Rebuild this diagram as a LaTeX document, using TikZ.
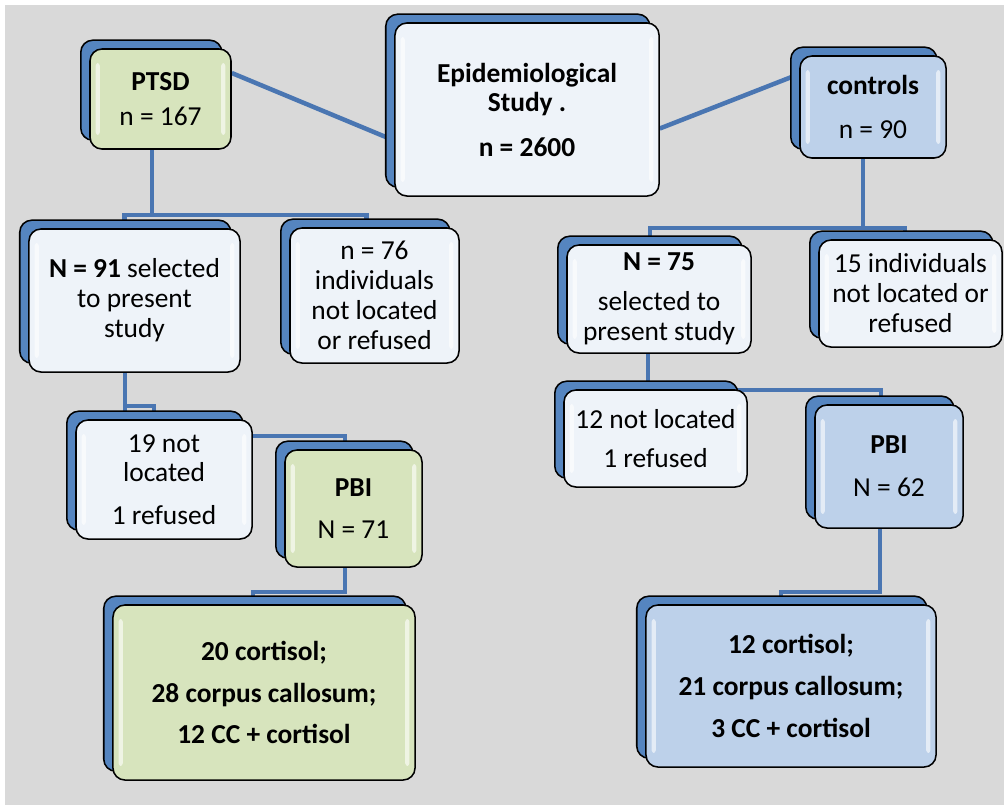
\documentclass[tikz,border=0pt]{standalone}
\usepackage{fontspec}
\setmainfont{Carlito}
\usetikzlibrary{shadows,calc}
\definecolor{bggray}{HTML}{D9D9D9}
\definecolor{backblue}{HTML}{5585C0}
\definecolor{linkblue}{HTML}{4A76B2}
\definecolor{palefill}{HTML}{EEF3F9}
\definecolor{greenfill}{HTML}{D7E4BD}
\definecolor{bluefill}{HTML}{BDD1EA}
\pgfdeclarelayer{back}\pgfdeclarelayer{links}
\pgfsetlayers{back,links,main}

\begin{document}
\begin{tikzpicture}[x=0.025cm,y=-0.025cm] \tikzset{% box styles and connector style
        box/.style={draw=black,line width=1.1pt,rounded corners=0.3cm,align=center,inner sep=0pt,
          font=\fontsize{19.5}{21.3}\selectfont,
          general shadow={shadow xshift=-0.23cm,shadow yshift=0.22cm,fill=backblue,draw=black,line width=1.1pt},
          path picture={
            \fill[white,opacity=.6,rounded corners=2pt] ([shift={(4pt,-10pt)}]path picture bounding box.north west) rectangle ([shift={(7pt,10pt)}]path picture bounding box.south west);
            \fill[white,opacity=.6,rounded corners=2pt] ([shift={(-7pt,-10pt)}]path picture bounding box.north east) rectangle ([shift={(-4pt,10pt)}]path picture bounding box.south east);}},
        wbox/.style={box,fill=palefill}, gbox/.style={box,fill=greenfill}, bbox/.style={box,fill=bluefill},
        c1/.style={draw=linkblue,line width=3.2pt},
        }
        \useasboundingbox (0,0) rectangle (1004,805);
        \begin{pgfonlayer}{back}
        \fill[white] (0,0) rectangle (1004,805); \fill[bggray] (5,5) rectangle (1004,805);
        \end{pgfonlayer}
        % Nodes
        \node[wbox,minimum width=6.6cm,minimum height=4.325cm] (epi) at (527,109.5) {\textbf{Epidemiological}\\\textbf{Study .}\\[10pt]\textbf{n = 2600}};
        \node[gbox,minimum width=3.525cm,minimum height=2.5cm] (ptsd) at (160.5,99) {\textbf{PTSD}\\[4pt]n = 167};
        \node[bbox,minimum width=3.65cm,minimum height=2.55cm] (ctrl) at (873,107) {\textbf{controls}\\[10pt]n = 90};
        \node[wbox,minimum width=5.275cm,minimum height=3.575cm] (n91) at (134.5,300.5) {\textbf{N = 91} selected\\to present\\study};
        \node[wbox,minimum width=4.225cm,minimum height=3.375cm] (n76) at (374.5,295.5) {n = 76\\individuals\\not located\\or refused};
        \node[wbox,minimum width=4.6cm,minimum height=2.7cm] (n75) at (659,299) {\textbf{N = 75}\\[7pt]selected to\\present study};
        \node[wbox,minimum width=4.575cm,minimum height=2.675cm] (ind15) at (910.5,293.5) {15 individuals\\not located or\\refused};
        \node[wbox,minimum width=4.4cm,minimum height=2.975cm] (not19) at (164,479.5) {19 not\\located\\[9pt]1 refused};
        \node[gbox,minimum width=3.425cm,minimum height=2.925cm] (pbi71) at (353.5,508.5) {\textbf{PBI}\\[9pt]N = 71};
        \node[wbox,minimum width=4.575cm,minimum height=2.425cm] (not12) at (655.5,438.5) {12 not located\\[6pt]1 refused};
        \node[bbox,minimum width=3.7cm,minimum height=3.075cm] (pbi62) at (889,466.5) {\textbf{PBI}\\[9pt]N = 62};
        \node[gbox,minimum width=7.55cm,minimum height=4.375cm] (ccl) at (264,692.5) {\textbf{20 cortisol;}\\[8.5pt]\textbf{28 corpus callosum;}\\[8.5pt]\textbf{12 CC + cortisol}};
        \node[bbox,minimum width=7.25cm,minimum height=4.05cm] (ccr) at (791,686) {\textbf{12 cortisol;}\\[8.5pt]\textbf{21 corpus callosum;}\\[8.5pt]\textbf{3 CC + cortisol}};
        \coordinate (bus1) at (152,215); \coordinate (bus2) at (863,228); \coordinate (bus3) at (125,406);
        %Edges
        \begin{pgfonlayer}{links}
        \draw[c1] ($(ptsd.east)+(0,-26)$) -- ($(epi.west)+(0,31)$); \draw[c1] ($(epi.east)+(0,19)$) -- ($(ctrl.west)+(0,-33)$);
        \draw[c1] ($(ptsd.south)+(-8.5,0)$) -- (bus1); \draw[c1] ($(n91.north)+(-10,0)$) |- (bus1) -| ($(n76.north)+(-8,0)$);
        \draw[c1] ($(ctrl.south)+(-10,0)$) -- (bus2); \draw[c1] ($(n75.north)+(-9,0)$) |- (bus2) -| ($(ind15.north)+(-5.5,0)$);
        \draw[c1] ($(n91.south)+(-9.5,0)$) |- ($(pbi71.north)+(-8.5,-13)$) -- ($(pbi71.north)+(-8.5,0)$); \draw[c1] (bus3) -| ($(not19.north)+(-10,0)$);
        \draw[c1] ($(n75.south)+(-11,0)$) |- ($(pbi62.north)+(-8,-14)$) -- ($(pbi62.north)+(-8,0)$);
        \draw[c1] ($(pbi71.south)+(-8.5,0)$) |- ($(ccl.north)+(-11,-12)$) -- ($(ccl.north)+(-11,0)$);
        \draw[c1] ($(pbi62.south)+(-9,0)$) |- ($(ccr.north)+(-10,-12)$) -- ($(ccr.north)+(-10,0)$);
        \end{pgfonlayer}
\end{tikzpicture}
\end{document}
